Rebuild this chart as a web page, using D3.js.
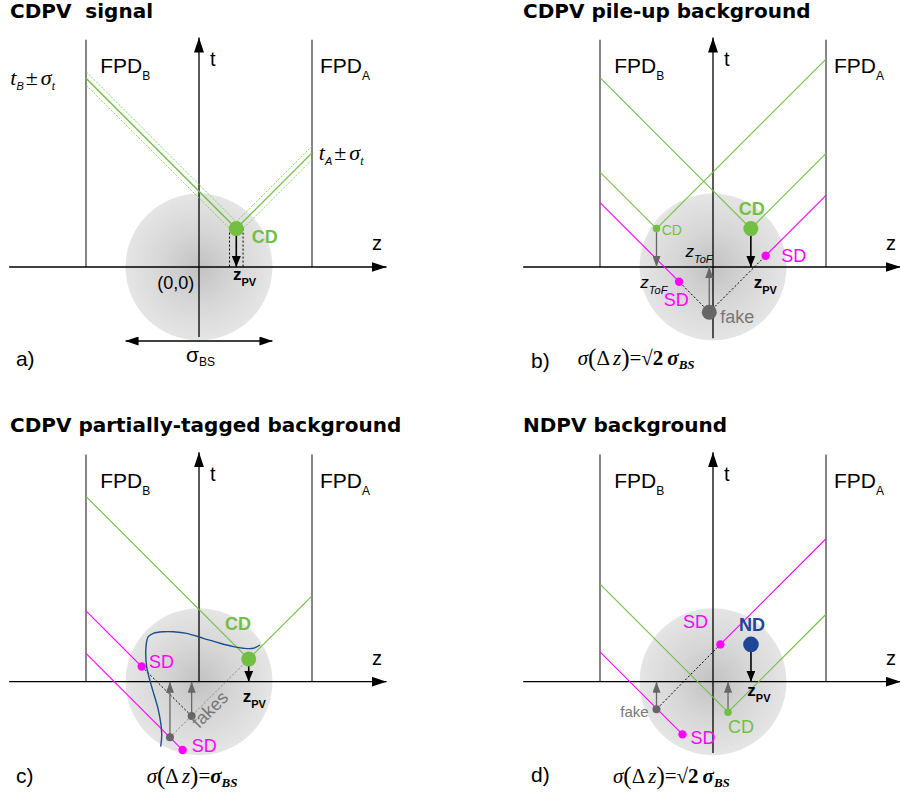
<!DOCTYPE html>
<html>
<head>
<meta charset="utf-8">
<script src="https://cdn.jsdelivr.net/npm/d3@7"></script>
<style>
  body { margin: 0; background: #fff; }
  svg { display: block; }
  text { font-family: "Liberation Sans", Arial, sans-serif; }
  .title { font-family: "DejaVu Sans", sans-serif; font-weight: bold; font-size: 20px; white-space: pre; }
  .serif, .serif tspan { font-family: "Liberation Serif", "DejaVu Serif", serif; }
  .serif tspan.sans { font-family: "Liberation Sans", Arial, sans-serif; }
</style>
</head>
<body>
<div id="chart"></div>
<script>
const W = 900, H = 798;
const K = 11.3;   // px per unit, same for z and t so light cones run at 45 deg

// layout of the four panels (origin of z/t axes)
const ORIGINS = [[199, 267], [713, 267], [199, 681.7], [713, 681.7]];
const TITLE_POS = [[10, 18], [523, 18], [10, 432], [523, 432]];
const TITLES = ["CDPV  signal", "CDPV pile-up background", "CDPV partially-tagged background", "NDPV background"];
const TAGS = ["a)", "b)", "c)", "d)"];

// geometry, in z/t units
const FPD_Z = [-10, 10];           // FPD_B, FPD_A
const FPD_TOP = 20.1;
const Z_AXIS = [-16.8, 16.6];
const T_AXIS_TOP = 20.3;
const T_AXIS_BOTTOM = [-6.2, -6.3, 0, -6.3];
const BEAM_SIGMA = 6.5;
const SIGMA_T = 0.6;

// vertices
const CD_VTX = [
  {p: 0, z: 3.3, t: 3.4, big: true},
  {p: 1, z: 3.35, t: 3.4, big: true},
  {p: 1, z: -5.0, t: 3.4},
  {p: 2, z: 4.4, t: 2.0, big: true},
  {p: 3, z: 1.33, t: -2.7}
];
const SD_VTX = [
  {p: 1, z: -3.0, t: -1.3, side: 0},
  {p: 1, z: 4.66, t: 1.0, side: 1},
  {p: 2, z: -5.07, t: 1.34, side: 0},
  {p: 2, z: -1.45, t: -6.05, side: 0},
  {p: 3, z: 0.65, t: 3.3, side: 1},
  {p: 3, z: -2.7, t: -4.66, side: 0}
];
const FAKE_VTX = [
  {p: 1, z: -0.33, t: -4.0, big: true},
  {p: 2, z: -0.65, t: -3.04},
  {p: 2, z: -2.57, t: -4.92},
  {p: 3, z: -5.0, t: -2.44}
];
const ND_VTX = [{p: 3, z: 3.36, t: 3.3}];

// dotted combinations of single-arm hits
const COMBOS = [
  {p: 1, a: [-0.33, -4.0], b: [-3.0, -1.3], dark: true},
  {p: 1, a: [-0.33, -4.0], b: [4.66, 1.0], dark: true},
  {p: 2, a: [-5.07, 1.34], b: [-0.65, -3.04], dark: true},
  {p: 2, a: [-2.57, -4.92], b: [4.4, 2.0], dark: false},
  {p: 3, a: [0.65, 3.3], b: [-5.0, -2.44], dark: true}
];

// acceptance-like contour in c)
const CURVE_C = [
  [-3.39, -5.75], [-3.30, -4.57], [-3.60, -2.50], [-4.19, -0.44], [-4.63, 1.33],
  [-4.69, 3.10], [-4.49, 3.98], [-4.04, 4.28], [-3.16, 4.42], [-2.27, 4.42],
  [-1.09, 4.28], [0.38, 3.84], [1.86, 3.40], [3.04, 3.10], [3.92, 2.96],
  [4.81, 2.96], [5.40, 3.25]
];

// text labels [panel, z, t, kind, text, sub]
const LABELS = [
  [0, 4.66, 2.1, "cdBig", "CD"], [0, 3.0, -1.15, "zpv", "z", "PV"], [0, -3.7, -1.95, "plain", "(0,0)"],
  [1, -4.54, 2.83, "cdSmall", "CD"], [1, 2.27, 4.6, "cdBig", "CD"], [1, 6.05, 0.44, "sd", "SD"],
  [1, -4.36, -3.45, "sd", "SD"], [1, 0.65, -4.93, "fake", "fake"], [1, -6.43, -1.83, "ztof", "z", "ToF"],
  [1, -2.44, 0.86, "ztof", "z", "ToF"], [1, 3.6, -1.86, "zpv", "z", "PV"],
  [2, -4.42, 1.24, "sd", "SD"], [2, -0.65, -6.2, "sd", "SD"], [2, 2.3, 4.58, "cdBig", "CD"],
  [2, 3.87, -1.77, "zpv", "z", "PV"],
  [3, 2.3, 4.5, "nd", "ND"], [3, -2.65, 4.73, "sd", "SD"], [3, -2.0, -5.5, "sd", "SD"],
  [3, 1.33, -4.5, "cd", "CD"], [3, -8.2, -3.1, "fakeSmall", "fake"], [3, 3.04, -1.27, "zpv", "z", "PV"]
];
const TAG_POS = [[-16.2, -8.8], [-16.1, -8.9], [-16.2, -9.0], [-16.1, -8.85]];
const FORMULA_POS = [null, [-11.97, -8.67], [-4.63, -8.97], [-8.85, -9.0]];
const FORMULA_SQRT = [false, true, false, true];

const GREEN = "#72bf44", LIGHT_GREEN = "#8ed05e", MAGENTA = "#ff00ff", GRAY = "#666", BLUE = "#1f4596", CURVE = "#1d4f8a";

const STYLE = {
  cdBig:     {size: 18, weight: "bold", fill: GREEN},
  cdSmall:   {size: 14, fill: GREEN},
  cd:        {size: 18, fill: GREEN},
  sd:        {size: 18, fill: MAGENTA},
  fake:      {size: 18, fill: "#777"},
  fakeSmall: {size: 15, fill: "#777"},
  nd:        {size: 18, weight: "bold", fill: BLUE},
  plain:     {size: 18, fill: "#000"},
  zpv:       {size: 17, weight: "bold", fill: "#000", sub: 11, dy: 6},
  ztof:      {size: 17, style: "italic", fill: "#000", sub: 11, dy: 6}
};

const svg = d3.select("#chart").append("svg").attr("width", W).attr("height", H);
const defs = svg.append("defs");

const grad = defs.append("radialGradient").attr("id", "beam");
grad.append("stop").attr("offset", "0%").attr("stop-color", "#c2c2c2");
grad.append("stop").attr("offset", "50%").attr("stop-color", "#d6d6d6");
grad.append("stop").attr("offset", "100%").attr("stop-color", "#e5e5e5");

function marker(id, len, half, color, orient) {
  defs.append("marker").attr("id", id)
    .attr("viewBox", `${-len} ${-half} ${len} ${2 * half}`)
    .attr("refX", 0).attr("refY", 0)
    .attr("markerWidth", len).attr("markerHeight", 2 * half)
    .attr("markerUnits", "userSpaceOnUse")
    .attr("orient", orient || "auto")
    .append("path").attr("d", `M0,0L${-len},${-half}L${-len},${half}Z`).attr("fill", color);
}
marker("axisArrow", 15, 5, "#000");
marker("projBlack", 11, 4.5, "#000");
marker("projGray", 11, 4, GRAY);
marker("sigArrow", 13, 4.5, "#000", "auto-start-reverse");

function subText(g, x, y, main, sub, s) {
  const t = g.append("text").attr("x", x).attr("y", y)
    .attr("font-size", s.size).attr("fill", s.fill)
    .attr("font-weight", s.weight || "normal").attr("font-style", s.style || "normal");
  t.append("tspan").text(main);
  if (sub) t.append("tspan").attr("font-size", s.sub).attr("dy", s.dy).text(sub);
  return t;
}

function formula(g, x, y, sqrt) {
  const t = g.append("text").attr("class", "serif").attr("x", x).attr("y", y).attr("font-size", 21);
  t.append("tspan").attr("font-style", "italic").text("σ");
  t.append("tspan").attr("font-size", 25).attr("dy", 1).text("(");
  t.append("tspan").attr("dy", -1).text("Δ");
  t.append("tspan").attr("font-style", "italic").attr("dx", 3).text("z");
  t.append("tspan").attr("font-size", 25).attr("dy", 1).text(")");
  t.append("tspan").attr("dy", -1).text("=");
  if (sqrt) t.append("tspan").attr("font-weight", "bold").text("√2");
  t.append("tspan").attr("font-weight", "bold").attr("font-style", "italic").attr("dx", sqrt ? 4 : 0).text("σ");
  t.append("tspan").attr("font-weight", "bold").attr("font-style", "italic").attr("font-size", 13).attr("dy", 4).text("BS");
}

function timeLabel(g, x, y, det) {
  const t = g.append("text").attr("class", "serif").attr("x", x).attr("y", y).attr("font-size", 22);
  t.append("tspan").attr("font-style", "italic").text("t");
  t.append("tspan").attr("class", "sans").attr("font-style", "italic")
    .attr("font-size", 11).attr("dy", 5).text(det);
  t.append("tspan").attr("dy", -5).attr("dx", 2).text("±");
  t.append("tspan").attr("font-style", "italic").attr("dx", 3).text("σ");
  t.append("tspan").attr("font-style", "italic").attr("font-size", 12).attr("dy", 5).text("t");
}

// light cone: time at which a proton from (z0,t0) reaches detector zd
const coneT = (z0, t0, zd) => t0 + Math.abs(zd - z0);

ORIGINS.forEach(([ox, oy], i) => {
  const x = d3.scaleLinear().domain([0, 1]).range([ox, ox + K]);
  const y = d3.scaleLinear().domain([0, 1]).range([oy, oy - K]);
  const g = svg.append("g");
  const seg = (z1, t1, z2, t2) => g.append("line")
    .attr("x1", x(z1)).attr("y1", y(t1)).attr("x2", x(z2)).attr("y2", y(t2));

  // title
  g.append("text").attr("class", "title").attr("x", TITLE_POS[i][0]).attr("y", TITLE_POS[i][1]).text(TITLES[i]);

  // beam spot
  g.append("circle").attr("cx", x(0)).attr("cy", y(0))
    .attr("r", x(BEAM_SIGMA) - x(0)).attr("fill", "url(#beam)");

  // detectors
  FPD_Z.forEach(zd => seg(zd, 0, zd, FPD_TOP).attr("stroke", "#222").attr("stroke-width", 1.1));

  // axes
  seg(Z_AXIS[0], 0, Z_AXIS[1], 0).attr("stroke", "#000").attr("stroke-width", 1.3).attr("marker-end", "url(#axisArrow)");
  seg(0, T_AXIS_BOTTOM[i], 0, T_AXIS_TOP).attr("stroke", "#000").attr("stroke-width", 1.3).attr("marker-end", "url(#axisArrow)");

  // axis & detector labels
  g.append("text").attr("x", x(0.97)).attr("y", y(17.8)).attr("font-size", 20).text("t");
  g.append("text").attr("x", x(15.3)).attr("y", y(1.5)).attr("font-size", 20).text("z");
  subText(g, x(-8.75), y(17.15), "FPD", "B", {size: 21, fill: "#000", sub: 12, dy: 7});
  subText(g, x(10.7), y(17.15), "FPD", "A", {size: 21, fill: "#000", sub: 12, dy: 7});

  // timing bands (signal panel only)
  if (i === 0) {
    CD_VTX.filter(d => d.p === 0).forEach(d => {
      [-SIGMA_T, SIGMA_T].forEach(s => FPD_Z.forEach(zd =>
        seg(d.z, d.t + s, zd, coneT(d.z, d.t + s, zd))
          .attr("stroke", LIGHT_GREEN).attr("stroke-width", 1).attr("stroke-dasharray", "2,1.5")));
      [-SIGMA_T, SIGMA_T].forEach(s =>
        seg(d.z + s, d.t, d.z + s, 0).attr("stroke", "#000").attr("stroke-width", 1).attr("stroke-dasharray", "2,2"));
    });
  }

  // proton tracks
  CD_VTX.filter(d => d.p === i).forEach(d => FPD_Z.forEach(zd =>
    seg(d.z, d.t, zd, coneT(d.z, d.t, zd)).attr("stroke", GREEN).attr("stroke-width", i === 0 ? 1.4 : 1.1)));
  SD_VTX.filter(d => d.p === i).forEach(d => {
    const zd = FPD_Z[d.side];
    seg(d.z, d.t, zd, coneT(d.z, d.t, zd)).attr("stroke", MAGENTA).attr("stroke-width", 1.1);
  });

  // fake combinations
  COMBOS.filter(d => d.p === i).forEach(d =>
    seg(d.a[0], d.a[1], d.b[0], d.b[1])
      .attr("stroke", d.dark ? "#000" : "#888").attr("stroke-width", 1).attr("stroke-dasharray", "2,2"));

  if (i === 2) {
    g.append("path").datum(CURVE_C)
      .attr("d", d3.line().x(d => x(d[0])).y(d => y(d[1])).curve(d3.curveCatmullRom))
      .attr("fill", "none").attr("stroke", CURVE).attr("stroke-width", 1.4);
  }

  // projections onto z
  const proj = [
    ...CD_VTX.filter(d => d.p === i).map(d => ({...d, black: !!d.big})),
    ...FAKE_VTX.filter(d => d.p === i).map(d => ({...d, black: false})),
    ...ND_VTX.filter(d => d.p === i).map(d => ({...d, black: true}))
  ];
  proj.forEach(d => seg(d.z, d.t, d.z, 0)
    .attr("stroke", d.black ? "#000" : GRAY).attr("stroke-width", d.black ? 1.6 : 1.3)
    .attr("marker-end", d.black ? "url(#projBlack)" : "url(#projGray)"));

  // vertices
  const dot = (d, r, c) => g.append("circle").attr("cx", x(d.z)).attr("cy", y(d.t)).attr("r", r).attr("fill", c);
  CD_VTX.filter(d => d.p === i).forEach(d => dot(d, d.big ? 7.5 : 3.8, GREEN));
  SD_VTX.filter(d => d.p === i).forEach(d => dot(d, 4.2, MAGENTA));
  FAKE_VTX.filter(d => d.p === i).forEach(d => dot(d, d.big ? 7.5 : 4, GRAY));
  ND_VTX.filter(d => d.p === i).forEach(d => dot(d, 7.8, BLUE));

  // labels
  LABELS.filter(d => d[0] === i).forEach(d => subText(g, x(d[1]), y(d[2]), d[4], d[5], STYLE[d[3]]));

  if (i === 0) {
    timeLabel(g, x(-16.7), y(16.1), "B");
    timeLabel(g, x(10.6), y(9.47), "A");
    seg(-BEAM_SIGMA, -6.55, BEAM_SIGMA, -6.55).attr("stroke", "#000").attr("stroke-width", 1.3)
      .attr("marker-start", "url(#sigArrow)").attr("marker-end", "url(#sigArrow)");
    subText(g, x(-1.15), y(-8.4), "σ", "BS", {size: 21, fill: "#000", sub: 12, dy: 4});
  }
  if (i === 2) {
    g.append("text").attr("transform", `translate(${x(0)},${y(-4.2)}) rotate(-45)`)
      .attr("font-size", 18).attr("fill", "#777").text("fakes");
  }

  g.append("text").attr("x", x(TAG_POS[i][0])).attr("y", y(TAG_POS[i][1])).attr("font-size", 21).text(TAGS[i]);
  if (FORMULA_POS[i]) formula(g, x(FORMULA_POS[i][0]), y(FORMULA_POS[i][1]), FORMULA_SQRT[i]);
});
</script>
</body>
</html>
